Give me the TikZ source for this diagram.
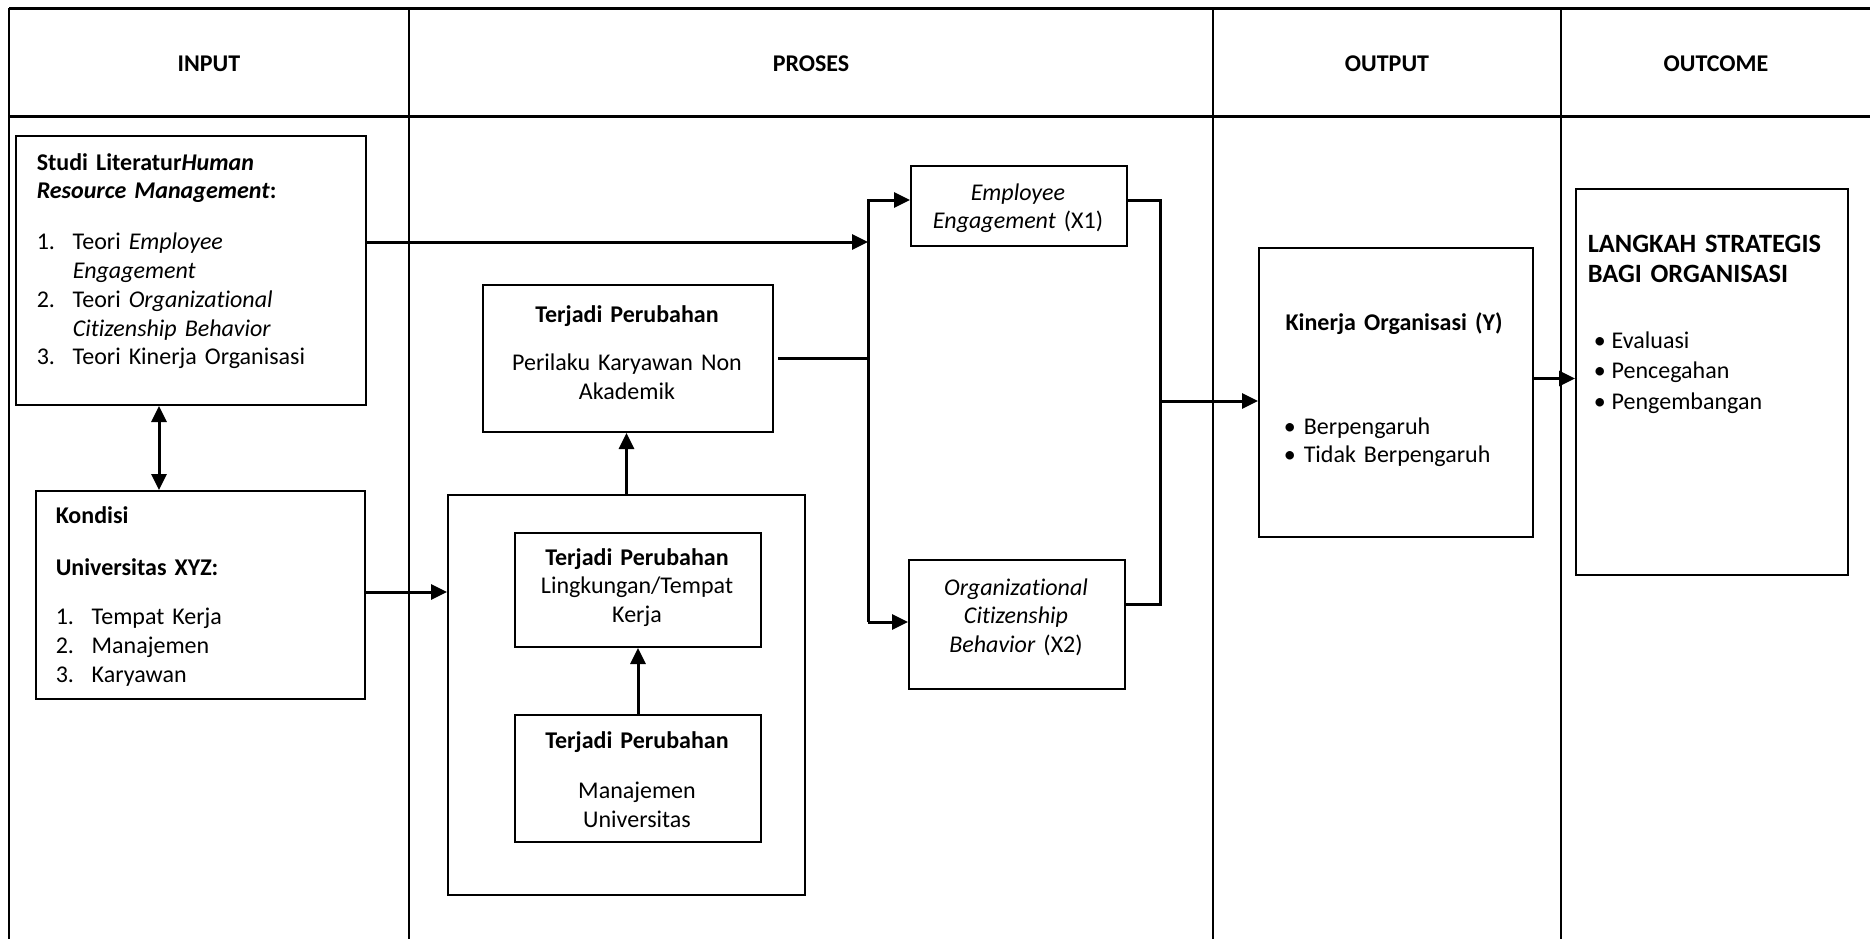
\documentclass[tikz,border=0pt]{standalone}
\usepackage{fontspec}
\setmainfont{Carlito}[Ligatures={NoCommon}]
\usetikzlibrary{arrows.meta}

\tikzset{every picture/.style={line width=0.75pt}}
\tikzset{
  rule/.style={line width=1.5pt},
  colrule/.style={line width=1pt},
  box/.style={draw, line width=1pt, anchor=north west, inner sep=0pt},
  lefttext/.style={anchor=base west, inner sep=0pt, align=left, font=\fontsize{12}{14.4}\selectfont},
  midtext/.style={anchor=base, inner sep=0pt, align=center, font=\fontsize{12}{14.4}\selectfont},
  headtext/.style={inner sep=0pt, font=\fontsize{12}{14.4}\selectfont\bfseries},
  flow/.style={line width=1.5pt, -{Triangle[length=8pt,width=7.5pt]}},
  twoway/.style={line width=1.5pt, {Triangle[length=8pt,width=7.5pt]}-{Triangle[length=8pt,width=7.5pt]}},
  bus/.style={line width=1.5pt},
}
\newcommand{\numln}[2]{\makebox[18pt][l]{#1}#2}
\newcommand{\dotln}[2]{\makebox[#1][l]{\textbullet}#2}

\begin{document}
\begin{tikzpicture}[x=0.5pt,y=0.5pt,yscale=-1,xscale=1]
\useasboundingbox (0,0) rectangle (1870,939);

%Table frame
\draw [rule] (9,8) -- (1870,8);
\draw [rule] (9,116) -- (1870,116);
\draw [colrule] (9,8) -- (9,939);
\draw [colrule] (409,8) -- (409,939);
\draw [colrule] (1213,8) -- (1213,939);
\draw [colrule] (1561,8) -- (1561,939);

% Text Node
\node [headtext] (hinput) at (209,64) {INPUT};
% Text Node
\node [headtext] (hproses) at (811,64) {PROSES};
% Text Node
\node [headtext] (houtput) at (1387,64) {OUTPUT};
% Text Node
\node [headtext] (houtcome) at (1716,64) {OUTCOME};

%Shape: Rectangle
\node [box, minimum width=175pt, minimum height=134.5pt] (studi) at (15,135) {};
%Shape: Rectangle
\node [box, minimum width=164.5pt, minimum height=104pt] (kondisi) at (35,490) {};
%Shape: Rectangle
\node [box, minimum width=145pt, minimum height=73.5pt] (perilaku) at (482,284) {};
%Shape: Rectangle
\node [box, minimum width=178.5pt, minimum height=200pt] (proses) at (447,494) {};
%Shape: Rectangle
\node [box, minimum width=123pt, minimum height=57pt] (lingkungan) at (514,532) {};
%Shape: Rectangle
\node [box, minimum width=123pt, minimum height=63.5pt] (manajemen) at (514,714) {};
%Shape: Rectangle
\node [box, minimum width=108pt, minimum height=40pt] (ee) at (910,165) {};
%Shape: Rectangle
\node [box, minimum width=108pt, minimum height=64.5pt] (ocb) at (908,559) {};
%Shape: Rectangle
\node [box, minimum width=137pt, minimum height=144.5pt] (kinerja) at (1258,247) {};
%Shape: Rectangle
\node [box, minimum width=136pt, minimum height=193pt] (langkah) at (1575,188) {};

% Text Node
\node [lefttext, text width=162pt] (studitext) at (36,170) {\textbf{Studi Literatur\textit{Human}}\\
\textbf{\textit{Resource Management}:}\\[11pt]
\numln{1.}{Teori \textit{Employee}}\\
\numln{}{\textit{Engagement}}\\
\numln{2.}{Teori \textit{Organizational}}\\
\numln{}{\textit{Citizenship Behavior}}\\
\numln{3.}{Teori Kinerja Organisasi}};
% Text Node
\node [lefttext, text width=150pt] (kondisitext) at (55,523) {\textbf{Kondisi}\\[12pt]
\textbf{Universitas XYZ:}\\[10pt]
\numln{1.}{Tempat Kerja}\\
\numln{2.}{Manajemen}\\
\numln{3.}{Karyawan}};
% Text Node
\node [midtext, text width=142pt] (perilakutext) at (627,322) {\textbf{Terjadi Perubahan}\\[10pt]
Perilaku Karyawan Non\\ Akademik};
% Text Node
\node [midtext, text width=121pt] (lingkungantext) at (637,565) {\textbf{Terjadi Perubahan}\\
Lingkungan/Tempat\\ Kerja};
% Text Node
\node [midtext, text width=121pt] (manajementext) at (637,748) {\textbf{Terjadi Perubahan}\\[11pt]
Manajemen\\ Universitas};
% Text Node
\node [midtext, text width=106pt] (eetext) at (1018,200) {\textit{Employee}\\ \textit{Engagement} (X1)};
% Text Node
\node [midtext, text width=106pt] (ocbtext) at (1016,595) {\textit{Organizational}\\ \textit{Citizenship}\\ \textit{Behavior} (X2)};
% Text Node
\node [midtext, text width=134pt] (kinerjatitle) at (1394,330) {\textbf{Kinerja Organisasi (Y)}};
% Text Node
\node [lefttext, text width=125pt] (kinerjalist) at (1283,434) {\dotln{10pt}{Berpengaruh}\\ \dotln{10pt}{Tidak Berpengaruh}};
% Text Node
\node [lefttext, text width=132pt, font=\fontsize{13.2}{15}\selectfont\bfseries] (langkahtitle) at (1587,252) {LANGKAH STRATEGIS\\ BAGI ORGANISASI};
% Text Node
\node [lefttext, text width=125pt] (langkahlist) at (1593,348) {\dotln{9pt}{Evaluasi}\\[1pt] \dotln{9pt}{Pencegahan}\\[1pt] \dotln{9pt}{Pengembangan}};

%Bus points
\coordinate (dbl) at (159,0);
\coordinate (bl1) at (868,200);
\coordinate (bl2) at (868,242);
\coordinate (bl4) at (868,622);
\coordinate (br1) at (1160,200);
\coordinate (br2) at (1160,401);
\coordinate (br3) at (1160,604);

%Straight Lines
\draw [twoway] (studi.south -| dbl) -- (kondisi.north -| dbl);
%Straight Lines
\draw [flow] (studi.east |- bl2) -- (bl2);
%Straight Lines
\draw [flow] ([yshift=-1.5pt]kondisi.east) -- ([yshift=-1.5pt]kondisi.east -| proses.west);
%Straight Lines
\draw [flow] (proses.north) -- (proses.north |- perilaku.south);
%Straight Lines
\draw [flow] (manajemen.north) -- (lingkungan.south);
%Straight Lines
\draw [bus] ([xshift=2pt]perilaku.east) -- (perilaku.east -| bl1);
%Straight Lines
\draw [flow] (bl4) -- (bl1) -- (bl1 -| ee.west);
%Straight Lines
\draw [flow] (bl4) -- (bl4 -| ocb.west);
%Straight Lines
\draw [bus] (br1 -| ee.east) -- (br1) -- (br3) -- (br3 -| ocb.east);
%Straight Lines
\draw [flow] (br2) -- (br2 -| kinerja.west);
%Straight Lines
\draw [flow] ([yshift=-7pt]kinerja.east) -- ([yshift=-7pt]kinerja.east -| langkah.west);

\end{tikzpicture}
\end{document}
